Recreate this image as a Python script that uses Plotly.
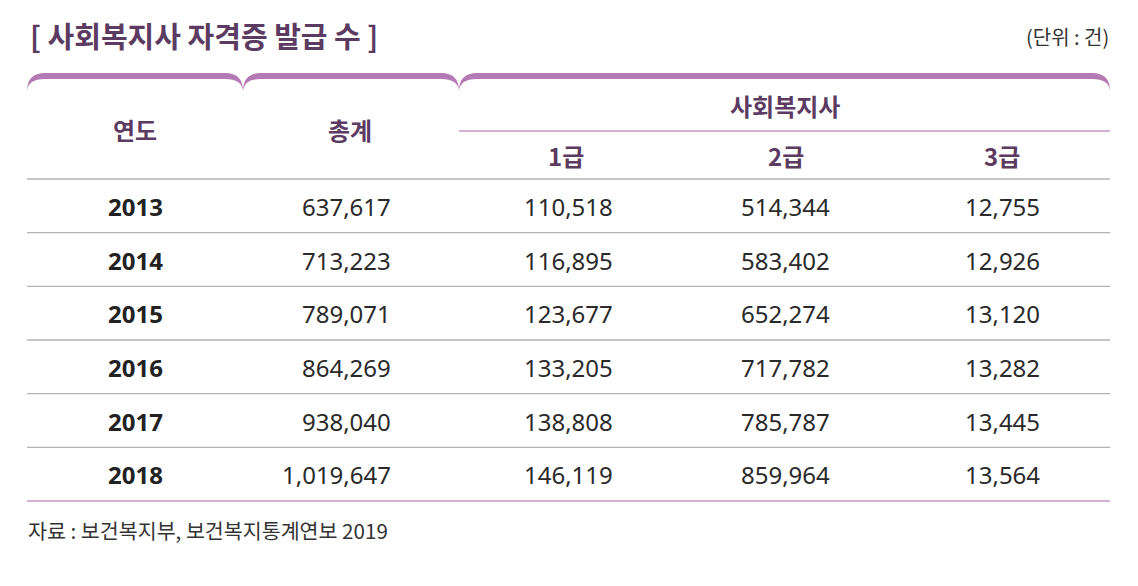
import plotly.graph_objects as go

# ---- data ----
years = ["2013", "2014", "2015", "2016", "2017", "2018"]
totals = [637617, 713223, 789071, 864269, 938040, 1019647]
grade1 = [110518, 116895, 123677, 133205, 138808, 146119]
grade2 = [514344, 583402, 652274, 717782, 785787, 859964]
grade3 = [12755, 12926, 13120, 13282, 13445, 13564]
col_headers = ["연도", "총계"]
group_header = "사회복지사"
sub_headers = ["1급", "2급", "3급"]
title_text = "[ 사회복지사 자격증 발급 수 ]"
unit_text = "(단위 : 건)"
source_text = "자료 : 보건복지부, 보건복지통계연보 2019"

# ---- layout constants ----
W, H = 1138, 586
LEFT, RIGHT = 27, 1110
SEG = [27, 243, 459, 1110]           # brace segment boundaries
TOP_Y = 73                            # top of purple brace band
HEAD_BOTTOM = 179
TABLE_BOTTOM = 501
ROW_H = (TABLE_BOTTOM - HEAD_BOTTOM) / len(years)
SUB_LINE_Y = 131

PURPLE = "#b47ab4"
PURPLE_LIGHT = "#c796c7"
HEAD_COLOR = "#5c3b62"
TEXT_COLOR = "#2a2a2a"
GRAY = "#b3b3b3"
FONT_KR = "Noto Sans CJK KR"
FONT_NUM = "Noto Sans, Noto Sans CJK KR"

fig = go.Figure()
fig.add_trace(go.Scatter(x=[0, W], y=[0, H], mode="markers",
                         marker=dict(opacity=0), hoverinfo="skip", showlegend=False))

shapes = []
annotations = []

# purple brace segments
r = 18
tip = 91
for xa, xb in zip(SEG[:-1], SEG[1:]):
    path = (f"M {xa},{tip} Q {xa},{TOP_Y} {xa+r},{TOP_Y} "
            f"L {xb-r},{TOP_Y} Q {xb},{TOP_Y} {xb},{tip} "
            f"Q {xb-1},{TOP_Y+6} {xb-r},{TOP_Y+6} "
            f"L {xa+r},{TOP_Y+6} Q {xa+1},{TOP_Y+6} {xa},{tip} Z")
    shapes.append(dict(type="path", path=path, xref="x", yref="y",
                       fillcolor=PURPLE, line=dict(width=0)))

# sub-header purple line
shapes.append(dict(type="line", x0=SEG[2], x1=RIGHT, y0=SUB_LINE_Y, y1=SUB_LINE_Y,
                   xref="x", yref="y", line=dict(color=PURPLE_LIGHT, width=1.6)))

# horizontal row lines
for k in range(len(years)):
    y = HEAD_BOTTOM + k * ROW_H
    shapes.append(dict(type="line", x0=LEFT, x1=RIGHT, y0=y, y1=y, xref="x", yref="y",
                       line=dict(color=GRAY, width=1.3)))
shapes.append(dict(type="line", x0=LEFT, x1=RIGHT, y0=TABLE_BOTTOM, y1=TABLE_BOTTOM,
                   xref="x", yref="y", line=dict(color=PURPLE_LIGHT, width=1.6)))

# title / unit / source
annotations.append(dict(x=28, y=35, text=title_text, xref="x", yref="y", showarrow=False,
                        xanchor="left", yanchor="middle",
                        font=dict(family=FONT_KR, size=29, color=HEAD_COLOR, weight=700)))
annotations.append(dict(x=1111, y=36, text=unit_text, xref="x", yref="y", showarrow=False,
                        xanchor="right", yanchor="middle",
                        font=dict(family=FONT_KR, size=20, color="#333333")))
annotations.append(dict(x=26, y=530, text=source_text, xref="x", yref="y", showarrow=False,
                        xanchor="left", yanchor="middle",
                        font=dict(family=FONT_KR, size=20.6, color="#333333")))

# headers
head_x = [135, 350]
for hx, ht in zip(head_x, col_headers):
    annotations.append(dict(x=hx, y=129, text=ht, xref="x", yref="y", showarrow=False,
                            xanchor="center", yanchor="middle",
                            font=dict(family=FONT_KR, size=24, color=HEAD_COLOR, weight=700)))
annotations.append(dict(x=785, y=105, text=group_header, xref="x", yref="y", showarrow=False,
                        xanchor="center", yanchor="middle",
                        font=dict(family=FONT_KR, size=24, color=HEAD_COLOR, weight=700)))
sub_x = [566, 786, 1002]
for sx, st in zip(sub_x, sub_headers):
    annotations.append(dict(x=sx, y=155, text=st, xref="x", yref="y", showarrow=False,
                            xanchor="center", yanchor="middle",
                            font=dict(family=FONT_KR, size=24, color=HEAD_COLOR, weight=700)))

# body
num_right = [393, 615, 832, 1042]
columns = [totals, grade1, grade2, grade3]
for i, yr in enumerate(years):
    yc = HEAD_BOTTOM + (i + 0.5) * ROW_H + 0.5
    annotations.append(dict(x=135, y=yc, text=f"<b>{yr}</b>", xref="x", yref="y",
                            showarrow=False, xanchor="center", yanchor="middle",
                            font=dict(family=FONT_NUM, size=24, color="#222222")))
    for xr, col in zip(num_right, columns):
        annotations.append(dict(x=xr, y=yc, text=f"{col[i]:,}", xref="x", yref="y",
                                showarrow=False, xanchor="right", yanchor="middle",
                                font=dict(family=FONT_NUM, size=24, color=TEXT_COLOR)))

fig.update_layout(
    width=W, height=H,
    margin=dict(l=0, r=0, t=0, b=0),
    paper_bgcolor="white", plot_bgcolor="white",
    xaxis=dict(range=[0, W], visible=False, fixedrange=True),
    yaxis=dict(range=[H, 0], visible=False, fixedrange=True),
    shapes=shapes, annotations=annotations,
    showlegend=False,
)

fig.write_html("out.html", config={"displayModeBar": False},
               post_script="document.body.style.margin='0';")
